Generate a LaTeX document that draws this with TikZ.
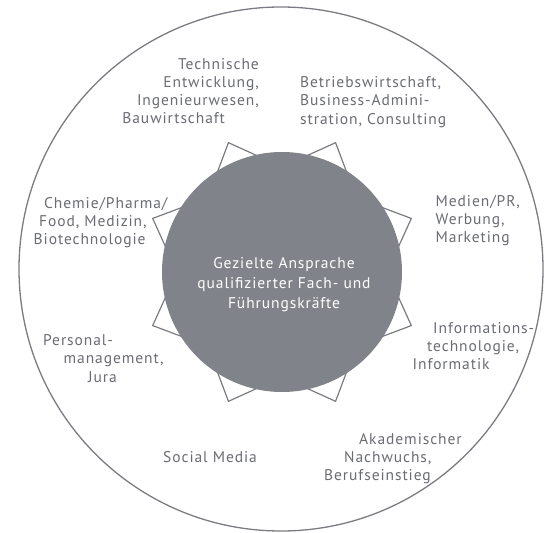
\documentclass[tikz,border=0pt]{standalone}
\usepackage{fontspec}
\setmainfont{PT Sans}[LetterSpace=6]
\usepackage{tikz}
\definecolor{txtgray}{RGB}{106,108,114}
\definecolor{linegray}{RGB}{122,124,130}
\definecolor{discgray}{RGB}{128,131,137}
\begin{document}
\begin{tikzpicture}[x=1pt, y=-1pt,
        lbl/.style={inner sep=0pt, text=txtgray, font=\fontsize{15.5}{18.2}\selectfont, align=left},
        hub/.style={circle, fill=discgray, minimum size=240pt, inner sep=0pt},
        ring/.style={draw=linegray, line width=1.3pt},
        spike/.style={draw=linegray, fill=white, line width=1.2pt, line join=miter},
    ]
        \useasboundingbox (0,0) rectangle (550,533);
        \draw[ring] (281,269) circle (262);
        \coordinate (M) at (282,272);
        \draw[spike, shift={(M)}] (0:105) \foreach \k in {0,...,7} { -- ({22.5+45*\k}:140) -- ({45+45*\k}:105) } -- cycle;
        \node[hub] (core) at (M) {};
        \node[text=white, font=\fontsize{15.5}{20}\selectfont, align=center] (goal) at (284,285)
            {Gezielte Ansprache\\qualifizierter Fach- und\\Führungskräfte};
        \node[lbl, anchor=north east, align=right] (tech) at (259,58)
            {Technische\\Entwicklung,\\Ingenieurwesen,\\Bauwirtschaft\hspace*{34pt}};
        \node[lbl, anchor=north west] (betr) at (300,76.5)
            {Betriebswirtschaft,\\Business-Admini-\\stration, Consulting};
        \node[lbl, anchor=north west] (chem) at (33.5,197)
            {\hspace*{10.5pt}Chemie/Pharma/\\\hspace*{5.5pt}Food, Medizin,\\Biotechnologie};
        \node[lbl, anchor=north west] (medi) at (435.5,195.2)
            {Medien/PR,\\Werbung,\\Marketing};
        \node[lbl, anchor=north west] (info) at (412.5,322)
            {\hspace*{20.5pt}Informations-\\\hspace*{14.5pt}technologie,\\Informatik};
        \node[lbl, anchor=north west] (pers) at (43,334.5)
            {Personal-\\\hspace*{20.5pt}management,\\\hspace*{45pt}Jura};
        \node[lbl, anchor=north west] (soci) at (163,451) {Social Media};
        \node[lbl, anchor=north west] (akad) at (324,432.8)
            {\hspace*{35pt}Akademischer\\\hspace*{20pt}Nachwuchs,\\Berufseinstieg};
    \end{tikzpicture}
\end{document}
